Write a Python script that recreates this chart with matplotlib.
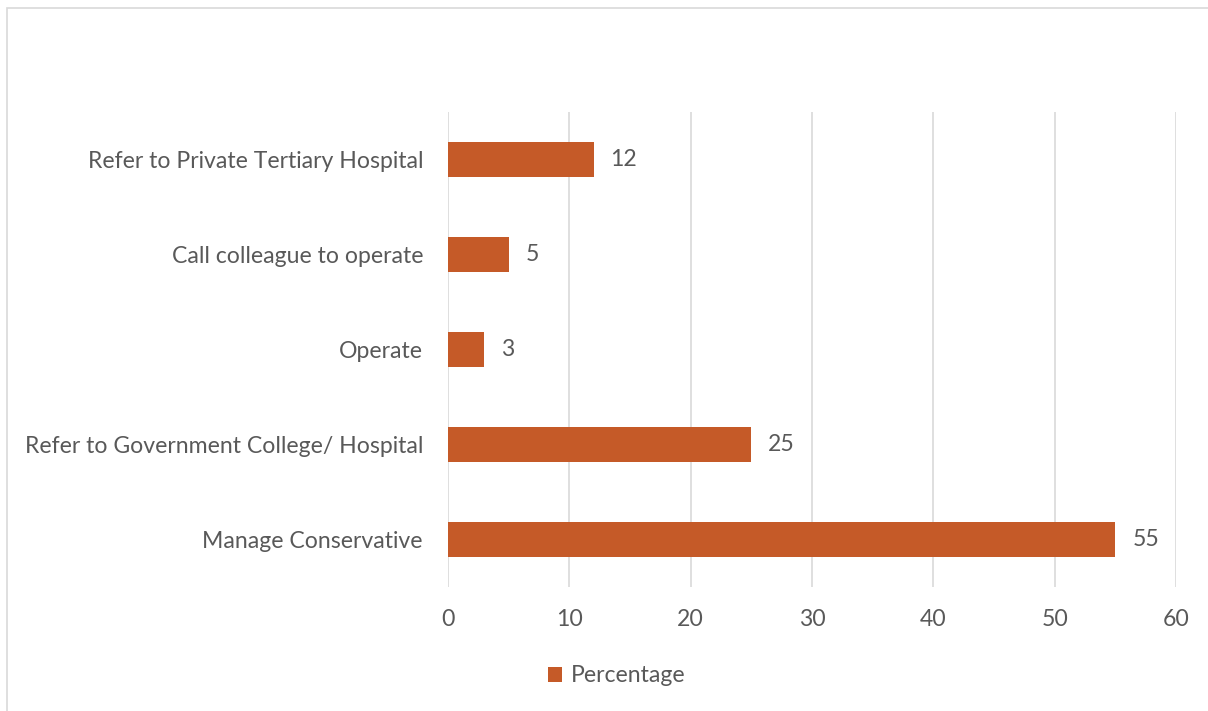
import matplotlib.pyplot as plt
from matplotlib.patches import Rectangle

categories = ["Manage Conservative", "Refer to Government College/ Hospital",
              "Operate", "Call colleague to operate",
              "Refer to Private Tertiary Hospital"]
values = [55, 25, 3, 5, 12]
xticks = [0, 10, 20, 30, 40, 50, 60]

bar_color = "#C55A28"
text_color = "#595959"
grid_color = "#D9D9D9"

plt.rcParams['font.family'] = ['Lato', 'DejaVu Sans']
fs = 16.6

fig = plt.figure(figsize=(12.08, 7.11), dpi=100)
# light frame round the chart area
fig.patches.append(Rectangle((7/1208, -0.1), 1.2, 1.1 - 8/711, transform=fig.transFigure,
                             fill=False, edgecolor="#D9D9D9", linewidth=1.2))

ax = fig.add_axes([448/1208, 1 - 587/711, (1176 - 448)/1208, 475/711])
y = range(len(categories))
bars = ax.barh(y, values, height=0.36, color=bar_color, label="Percentage")

for b, v in zip(bars, values):
    ax.text(b.get_width() + 1.4, b.get_y() + b.get_height()/2, str(v),
            va="center", ha="left", fontsize=fs, color=text_color)

ax.set_xlim(0, 60)
ax.set_ylim(-0.5, len(categories) - 0.5)
ax.set_xticks(xticks)
ax.set_yticks(list(y))
ax.set_yticklabels(categories)
ax.tick_params(axis="both", length=0, labelsize=fs, labelcolor=text_color)
ax.tick_params(axis="y", pad=18)
ax.tick_params(axis="x", pad=16)
ax.grid(axis="x", color=grid_color, linewidth=1.2)
ax.set_axisbelow(True)
for s in ax.spines.values():
    s.set_visible(False)

fig.legend(handles=[bars], labels=["Percentage"], loc="center",
           bbox_to_anchor=(617/1208, 1 - 676/711), frameon=False,
           fontsize=fs, labelcolor=text_color, handlelength=0.6,
           handleheight=0.6, handletextpad=0.4)

fig.savefig("out.png", dpi=100)
